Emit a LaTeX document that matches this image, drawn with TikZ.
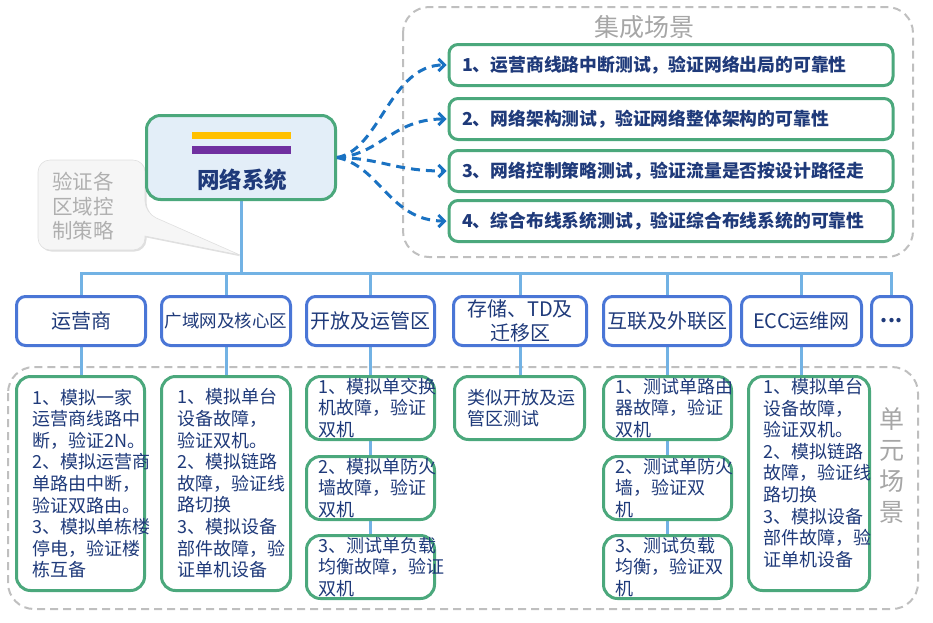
\documentclass[tikz,border=0pt]{standalone}
\usepackage{fontspec}
\setmainfont{Noto Sans CJK SC}
\usepackage{tikz}
\usetikzlibrary{arrows.meta,shadows,backgrounds}
\definecolor{corNavy}{HTML}{1F3A7A}
\definecolor{corVerde}{HTML}{4BA87C}
\definecolor{corAzul}{HTML}{4A76D6}
\definecolor{corLinha}{HTML}{72B2E4}
\definecolor{corSeta}{HTML}{1A72C2}
\definecolor{corCinza}{HTML}{BFBFBF}
\definecolor{corRotulo}{HTML}{A6A6A6}
\definecolor{corFundo}{HTML}{E3EEF8}
\definecolor{corAmarelo}{HTML}{FFC000}
\definecolor{corRoxo}{HTML}{7030A0}

\begin{document}
\begin{tikzpicture}[x=1pt, y=-1pt,
    caixa/.style={draw=corAzul, line width=3pt, rounded corners=9pt, fill=white,
      minimum height=49pt, inner sep=1pt, text=corNavy, align=center,
      font=\fontsize{20}{24}\selectfont},
    cena/.style={draw=corVerde, line width=3pt, rounded corners=9pt, fill=white,
      minimum width=444pt, minimum height=41pt, text width=418pt, inner xsep=13pt,
      align=left, text=corNavy, font=\bfseries\fontsize{17.8}{21}\selectfont},
    celula/.style={draw=corVerde, line width=3pt, rounded corners=14pt, fill=white},
    texto/.style={inner sep=0pt, anchor=west, align=left, text=corNavy,
      font=\fontsize{18}{21.6}\selectfont},
    ligacao/.style={draw=corLinha, line width=3pt},
    seta/.style={draw=corSeta, line width=3pt, dash pattern=on 9pt off 6pt,
      -{Straight Barb[length=6pt,width=12pt]}, shorten >=1pt},
    grupo/.style={draw=corCinza, line width=2pt, dash pattern=on 8pt off 5pt, rounded corners=26pt},
  ]
  \useasboundingbox (0,0) rectangle (933,622);

  % cenas de integracao
  \node[cena] (s1) at (671,65)  {1、运营商线路中断测试，验证网络出局的可靠性};
  \node[cena] (s2) at (671,119) {2、网络架构测试，验证网络整体架构的可靠性};
  \node[cena] (s3) at (671,171) {3、网络控制策略测试，验证流量是否按设计路径走};
  \node[cena] (s4) at (671,221) {4、综合布线系统测试，验证综合布线系统的可靠性};
  \node[text=corRotulo, font=\fontsize{25}{30}\selectfont] (rotuloA) at (644,27) {集成场景};

  % sistema de rede
  \node[draw=corVerde, line width=3pt, rounded corners=14pt, fill=corFundo,
    minimum width=189pt, minimum height=84pt] (net) at (241,157.5) {};
  \fill[corAmarelo] (192,132) rectangle (291,139);
  \fill[corRoxo] (192,146) rectangle (291,154);
  \node[text=corNavy, font=\bfseries\fontsize{22.5}{26}\selectfont] (titulo) at (242,180) {网络系统};
  \node[anchor=west, inner sep=0pt, align=left, text=corRotulo!90,
    font=\fontsize{20.5}{24.5}\selectfont] (nota) at (52,206.5) {验证各\\区域控\\制策略};

  % zonas
  \node[caixa, minimum width=129pt] (m1) at (81,321)    {运营商};
  \node[caixa, minimum width=129pt, font=\fontsize{17.5}{21}\selectfont] (m2) at (226,321) {广域网及核心区};
  \node[caixa, minimum width=128pt] (m3) at (370.5,321) {开放及运管区};
  \node[caixa, minimum width=133pt] (m4) at (520,321)   {存储、TD及\\迁移区};
  \node[caixa, minimum width=127pt] (m5) at (667,321)   {互联及外联区};
  \node[caixa, minimum width=120pt] (m6) at (801.5,321) {ECC运维网};
  \node[caixa, minimum width=40pt]  (m7) at (891.5,321) {\textbf{...}};

  % cenas unitarias
  \node[celula, minimum width=128pt, minimum height=214pt] (a)  at (80.5,483.5) {};
  \node[celula, minimum width=129pt, minimum height=214pt] (b)  at (226,483.5)  {};
  \node[celula, minimum width=128pt, minimum height=63pt]  (c1) at (370.5,408)  {};
  \node[celula, minimum width=128pt, minimum height=63pt]  (c2) at (370.5,488)  {};
  \node[celula, minimum width=128pt, minimum height=63pt]  (c3) at (370.5,567)  {};
  \node[celula, minimum width=130pt, minimum height=63pt]  (d)  at (519.5,408)  {};
  \node[celula, minimum width=128pt, minimum height=63pt]  (e1) at (667.5,408)  {};
  \node[celula, minimum width=128pt, minimum height=63pt]  (e2) at (667.5,488)  {};
  \node[celula, minimum width=128pt, minimum height=63pt]  (e3) at (667.5,567)  {};
  \node[celula, minimum width=121pt, minimum height=214pt] (f)  at (809,483.5)  {};

  \node[texto] (ta) at (32,483.5) {1、模拟一家\\运营商线路中\\断，验证2N。\\2、模拟运营商\\单路由中断，\\验证双路由。\\3、模拟单栋楼\\停电，验证楼\\栋互备};
  \node[texto] (tb) at (177,483.5) {1、模拟单台\\设备故障，\\验证双机。\\2、模拟链路\\故障，验证线\\路切换\\3、模拟设备\\部件故障，验\\证单机设备};
  \node[texto] (tc1) at (318,408) {1、模拟单交换\\机故障，验证\\双机};
  \node[texto] (tc2) at (318,488) {2、模拟单防火\\墙故障，验证\\双机};
  \node[texto] (tc3) at (318,567) {3、测试单负载\\均衡故障，验证\\双机};
  \node[texto] (td)  at (467,408) {类似开放及运\\管区测试};
  \node[texto] (te1) at (615,408) {1、测试单路由\\器故障，验证\\双机};
  \node[texto] (te2) at (615,488) {2、测试单防火\\墙，验证双\\机};
  \node[texto] (te3) at (615,567) {3、测试负载\\均衡，验证双\\机};
  \node[texto, anchor=north west] (tf) at (763,378) {1、模拟单台\\设备故障，\\验证双机。\\2、模拟链路\\故障，验证线\\路切换\\3、模拟设备\\部件故障，验\\证单机设备};
  \node[text=corRotulo, align=center, font=\fontsize{25}{31}\selectfont] (rotuloB) at (892,465.5) {单\\元\\场\\景};

  \begin{scope}[on background layer]
    % molduras tracejadas
    \draw[grupo] (403,7) rectangle (913,257);
    \draw[grupo] (8,367) rectangle (918,609);

    % balao
    \path[fill=gray!7, draw=gray!25, line width=0.6pt,
      drop shadow={shadow xshift=1.5pt, shadow yshift=-1.5pt, opacity=0.25}]
      (38,205) [rounded corners=12pt] -- (38,160) -- (145,160) -- (145,213)
      [sharp corners] -- (240,255) -- (145,236)
      [rounded corners=12pt] -- (145,250) -- (38,250) -- cycle;

    % ligacoes
    \coordinate (barra) at (241,273);
    \draw[ligacao] (net.south) -- (barra);
    \foreach \m in {m1,m2,m3,m4,m5,m6,m7}
      \draw[ligacao] (barra) -| (\m.north);
    \draw[ligacao] (m1.south) -- (m1.south |- a.north);
    \draw[ligacao] (m2.south) -- (m2.south |- b.north);
    \draw[ligacao] (m3.south) -- (m3.south |- c1.north);
    \draw[ligacao] (m4.south) -- (m4.south |- d.north);
    \draw[ligacao] (m5.south) -- (m5.south |- e1.north);
    \draw[ligacao] (m6.south) -- (m6.south |- f.north);
    \draw[ligacao] (c1) -- (c2);
    \draw[ligacao] (c2) -- (c3);
    \draw[ligacao] (e1) -- (e2);
    \draw[ligacao] (e2) -- (e3);
  \end{scope}

  % setas tracejadas
  \draw[seta] (net.east) .. controls (380,150) and (390,65) .. (s1.west);
  \draw[seta] (net.east) .. controls (380,155) and (392,119) .. (s2.west);
  \draw[seta] (net.east) .. controls (380,158) and (395,171) .. (s3.west);
  \draw[seta] (net.east) .. controls (380,166) and (390,221) .. (s4.west);
\end{tikzpicture}
\end{document}
